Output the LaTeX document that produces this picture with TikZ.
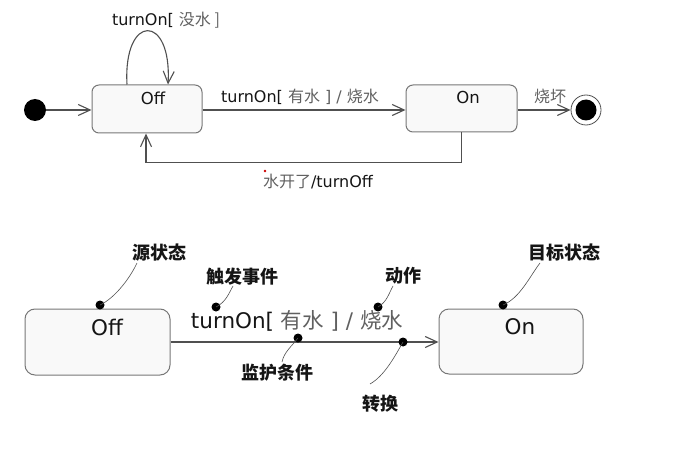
\documentclass[tikz,border=0pt]{standalone}
\usepackage{fontspec}
\setmainfont{DejaVu Sans}
\newfontfamily\cjk{Noto Sans CJK SC}
\usetikzlibrary{arrows.meta}
\definecolor{ln}{HTML}{505050}
\definecolor{bx}{HTML}{777777}
\definecolor{fl}{HTML}{F9F9F9}
\definecolor{cn}{HTML}{606060}
\definecolor{tx}{HTML}{151515}
\begin{document}
\begin{tikzpicture}[x=1pt,y=-1pt,
  stbox/.style={draw=bx, fill=fl, rounded corners=7pt, line width=1pt, inner sep=0pt},
  bigbox/.style={draw=bx, fill=fl, rounded corners=10pt, line width=1pt, inner sep=0pt},
  trans/.style={draw=ln, line width=1.1pt, -{Straight Barb[length=12pt,width=11pt,line width=1.1pt]}},
  lbl/.style={font=\fontsize{16}{19}\selectfont, text=tx, inner sep=1pt},
  stname/.style={font=\fontsize{16.5}{19}\selectfont, text=tx, inner sep=1pt},
  bigname/.style={font=\fontsize{21.5}{25}\selectfont, text=tx, inner sep=1pt},
  biglbl/.style={font=\fontsize{21.5}{25}\selectfont, text=tx, inner sep=1pt},
  note/.style={font=\cjk\bfseries\fontsize{18}{21}\selectfont, text=tx, inner sep=1pt},
  cdot/.style={circle, fill=black, minimum size=9pt, inner sep=0pt},
  callout/.style={draw=ln, line width=0.6pt}
]
\useasboundingbox (0,0) rectangle (674,449);

% ---------- top diagram ----------
\node[circle, fill=black, minimum size=22pt, inner sep=0pt] (init) at (35,110) {};
\node[stbox, minimum width=110pt, minimum height=48pt] (off) at (147,109) {};
\node[stname] (offname) at (153,98) {Off};
\node[stbox, minimum width=111pt, minimum height=47pt] (on) at (461.5,108.5) {};
\node[stname] (onname) at (468,97) {On};
\node[circle, draw=ln, line width=0.8pt, fill=white, minimum size=30pt, inner sep=0pt] (fin) at (586,110) {};
\node[circle, fill=black, minimum size=21pt, inner sep=0pt] (fininner) at (586,110) {};

\draw[trans] (init.east) -- (off.west |- init.east);
\draw[trans] ([xshift=-20pt]off.north) .. controls (123,13) and (172,13) .. ([xshift=21pt]off.north);
\draw[trans] (off.east |- 0,110) -- (on.west |- 0,110);
\draw[trans] (on.east |- 0,110) -- (fin.west);
\draw[trans] (on.south) -- ++(0,30) -| ([xshift=-1pt]off.south);

\node[lbl] (selflbl) at (166,20) {turnOn[ \textcolor{cn}{\cjk 没水 ]}};
\node[lbl] (onlbl) at (300,97) {turnOn[ \textcolor{cn}{\cjk 有水} \textcolor{cn}{] / {\cjk 烧水}}};
\node[lbl] (brklbl) at (550,96) {\textcolor{cn}{\cjk 烧坏}};
\node[lbl] (offlbl) at (318,182) {\textcolor{cn}{\cjk 水开了}/turnOff};
\fill[red!80!black] (265,171) circle (1.3pt);

% ---------- bottom diagram ----------
\node[bigbox, minimum width=145pt, minimum height=66pt] (off2) at (97.5,342) {};
\node[bigname] (off2name) at (107,327) {Off};
\node[bigbox, minimum width=144pt, minimum height=65pt] (on2) at (511,341.5) {};
\node[bigname] (on2name) at (520,327) {On};
\draw[trans] (off2.east) -- (on2.west |- off2.east);
\node[biglbl] (bigtr) at (297,321) {turnOn[ \textcolor{cn}{\cjk 有水} \textcolor{cn}{] / {\cjk 烧水}}};

% callouts
\node[cdot] (d1) at (100,305) {};
\coordinate (e1) at (137,263);
\draw[callout] (d1.center) .. controls (115,298) and (130,278) .. (e1);
\node[note] (n1) at (159,253) {源状态};

\node[cdot] (d2) at (216,307) {};
\coordinate (e2) at (233,286);
\draw[callout] (d2.center) .. controls (226,302) and (229,293) .. (e2);
\node[note] (n2) at (242,277) {触发事件};

\node[cdot] (d3) at (298,338) {};
\coordinate (e3) at (282,362);
\draw[callout] (d3.center) .. controls (292,346) and (284,352) .. (e3);
\node[note] (n3) at (277,373) {监护条件};

\node[cdot] (d4) at (378,307) {};
\coordinate (e4) at (393,286);
\draw[callout] (d4.center) .. controls (387,302) and (389,293) .. (e4);
\node[note] (n4) at (403,276) {动作};

\node[cdot] (d5) at (403,342) {};
\coordinate (e5) at (370,384);
\draw[callout] (d5.center) .. controls (394,358) and (384,376) .. (e5);
\node[note] (n5) at (380,404) {转换};

\node[cdot] (d6) at (503,305) {};
\coordinate (e6) at (540,263);
\draw[callout] (d6.center) .. controls (520,298) and (530,276) .. (e6);
\node[note] (n6) at (564,253) {目标状态};
\end{tikzpicture}
\end{document}
